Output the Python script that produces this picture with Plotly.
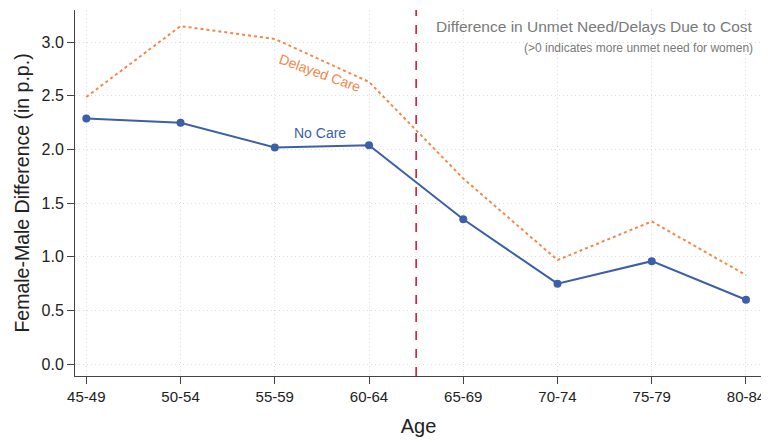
import plotly.graph_objects as go

ages = ["45-49", "50-54", "55-59", "60-64", "65-69", "70-74", "75-79", "80-84"]
no_care = [2.29, 2.25, 2.02, 2.04, 1.35, 0.75, 0.96, 0.60]
delayed_care = [2.49, 3.15, 3.03, 2.63, 1.73, 0.97, 1.33, 0.83]
y_ticks = [0.0, 0.5, 1.0, 1.5, 2.0, 2.5, 3.0]
cutoff_pos = 3.5

FONT = "Liberation Sans Narrow, Arial Narrow, Liberation Sans, Arial, sans-serif"
BLUE = "#3c5fa8"
ORANGE = "#f5874a"

x_idx = list(range(len(ages)))

fig = go.Figure()
fig.add_trace(go.Scatter(x=x_idx, y=delayed_care, mode="lines",
                         line=dict(color=ORANGE, width=2, dash="3px,3px"),
                         name="Delayed Care", showlegend=False))
fig.add_trace(go.Scatter(x=x_idx, y=no_care, mode="lines+markers",
                         line=dict(color=BLUE, width=2),
                         marker=dict(color=BLUE, size=8),
                         name="No Care", showlegend=False))

fig.add_shape(type="line", x0=cutoff_pos, x1=cutoff_pos, y0=0, y1=1, yref="paper",
              line=dict(color="#d6173a", width=1.6, dash="dash"))

fig.add_annotation(x=2.48, y=2.71, text="Delayed Care", showarrow=False, textangle=20,
                   font=dict(family=FONT, size=14, color=ORANGE))
fig.add_annotation(x=2.48, y=2.15, text="No Care", showarrow=False,
                   font=dict(family=FONT, size=14, color=BLUE))
fig.add_annotation(x=0.99, y=0.954, xref="paper", yref="paper",
                   text="Difference in Unmet Need/Delays Due to Cost",
                   showarrow=False, xanchor="right", yanchor="middle",
                   font=dict(family=FONT, size=15.5, color="#7a7a7a"))
fig.add_annotation(x=0.99, y=0.896, xref="paper", yref="paper",
                   text="(>0 indicates more unmet need for women)",
                   showarrow=False, xanchor="right", yanchor="middle",
                   font=dict(family=FONT, size=12, color="#7a7a7a"))

fig.update_layout(
    width=761, height=434,
    margin=dict(l=67, r=7, t=2, b=66, autoexpand=False),
    plot_bgcolor="white", paper_bgcolor="white",
    font=dict(family=FONT, size=16, color="#222"),
)
fig.update_xaxes(
    tickmode="array", tickvals=x_idx, ticktext=ages,
    range=[-0.12, 7.17],
    showline=True, linecolor="#444", linewidth=1,
    ticks="outside", ticklen=7, tickcolor="#444",
    showgrid=True, gridcolor="#dddddd", griddash="1px,3px", gridwidth=1,
    zeroline=False, automargin=False,
    title=dict(text="Age", font=dict(size=20), standoff=14),
    tickfont=dict(size=15),
)
fig.update_yaxes(
    tickmode="array", tickvals=y_ticks, ticktext=[f"{v:.1f}" for v in y_ticks],
    range=[-0.11, 3.30],
    showline=True, linecolor="#444", linewidth=1,
    ticks="outside", ticklen=7, tickcolor="#444",
    showgrid=True, gridcolor="#dddddd", griddash="1px,3px", gridwidth=1,
    zeroline=False, automargin=False,
    title=dict(text="Female-Male Difference (in p.p.)", font=dict(size=19.5), standoff=6),
    tickfont=dict(size=16),
)

fig.write_html("out.html")
